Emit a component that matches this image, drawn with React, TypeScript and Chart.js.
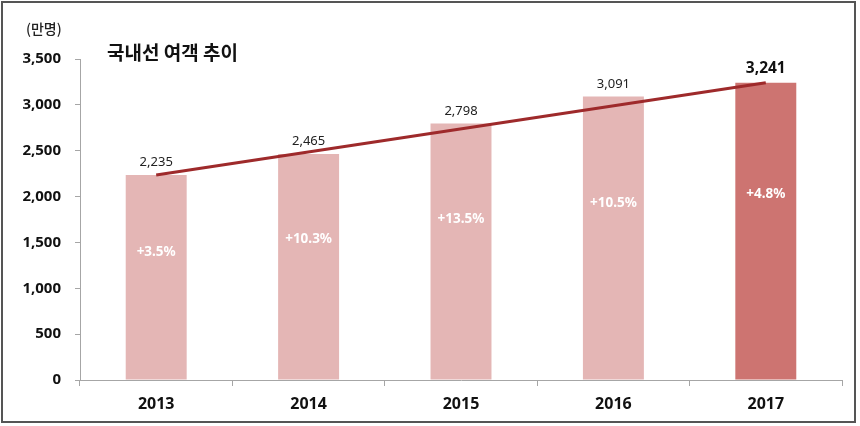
import React, { useEffect, useRef } from "react";
import { Chart, registerables } from "chart.js";

Chart.register(...registerables);

const years = ["2013", "2014", "2015", "2016", "2017"];
const passengers = [2235, 2465, 2798, 3091, 3241];
const growth = ["+3.5%", "+10.3%", "+13.5%", "+10.5%", "+4.8%"];
const trendLine = [2235, null, null, null, 3241];
const yTicks = [0, 500, 1000, 1500, 2000, 2500, 3000, 3500];
const title = "국내선 여객 추이";
const unit = "(만명)";

const LIGHT = "#E4B6B5";
const DARK = "#CD7471";
const FONT = '"Noto Sans", "Noto Sans CJK KR", sans-serif';
const KFONT = '"Noto Sans CJK KR", "Noto Sans", sans-serif';

const labelsPlugin = {
  id: "customLabels",
  afterDatasetsDraw(chart: any) {
    const ctx = chart.ctx;
    const meta = chart.getDatasetMeta(1);
    const yScale = chart.scales.y;
    ctx.save();
    meta.data.forEach((bar: any, i: number) => {
      const last = i === passengers.length - 1;
      ctx.textAlign = "center";
      ctx.textBaseline = "bottom";
      ctx.fillStyle = last ? "#111" : "#222";
      ctx.font = last ? `bold 15.5px ${FONT}` : `13px ${FONT}`;
      ctx.fillText(passengers[i].toLocaleString("en-US"), bar.x, bar.y - 6);
      ctx.textBaseline = "middle";
      ctx.fillStyle = "#FFFFFF";
      ctx.font = `bold 13.5px ${FONT}`;
      ctx.fillText(growth[i], bar.x, yScale.getPixelForValue(passengers[i] * 0.625));
    });
    ctx.restore();
  },
  afterDraw(chart: any) {
    const ctx = chart.ctx;
    ctx.save();
    ctx.fillStyle = "#222";
    ctx.textAlign = "left";
    ctx.textBaseline = "middle";
    ctx.font = `500 14px ${KFONT}`;
    ctx.fillText(unit, 26, 29);
    ctx.fillStyle = "#111";
    ctx.font = `600 19px ${KFONT}`;
    ctx.fillText(title, 107, 53);
    ctx.strokeStyle = "#555";
    ctx.lineWidth = 2;
    ctx.strokeRect(2, 2, 853, 420);
    ctx.restore();
  },
};

export default function App() {
  const ref = useRef<HTMLCanvasElement>(null);
  useEffect(() => {
    document.body.style.margin = "0";
    const chart = new Chart(ref.current as HTMLCanvasElement, {
      type: "bar",
      data: {
        labels: years,
        datasets: [
          {
            type: "line",
            data: trendLine as any,
            borderColor: "#9E2A2B",
            borderWidth: 3,
            pointRadius: 0,
            spanGaps: true,
            fill: false,
            order: 0,
          } as any,
          {
            type: "bar",
            data: passengers,
            backgroundColor: passengers.map((_, i) => (i === passengers.length - 1 ? DARK : LIGHT)),
            barPercentage: 0.4,
            categoryPercentage: 1,
            order: 1,
          },
        ],
      },
      options: {
        responsive: false,
        animation: false,
        layout: { padding: { top: 59, right: 18, left: 0, bottom: 0 } },
        plugins: { legend: { display: false }, tooltip: { enabled: false } },
        scales: {
          x: {
            offset: true,
            grid: { drawOnChartArea: false, drawTicks: true, tickLength: 6, color: "#A6A6A6", offset: true },
            border: { color: "#A6A6A6" },
            ticks: { color: "#111", font: { family: FONT, size: 16, weight: "bold" }, padding: 9 },
            afterFit: (s: any) => { s.height = 46; },
          },
          y: {
            min: 0,
            max: 3500,
            afterBuildTicks: (s: any) => { s.ticks = yTicks.map((v) => ({ value: v })); },
            grid: { drawOnChartArea: false, drawTicks: true, tickLength: 5, color: "#A6A6A6" },
            border: { color: "#A6A6A6" },
            ticks: {
              color: "#111",
              font: { family: FONT, size: 15, weight: "bold" },
              padding: 14,
              callback: (v: any) => Number(v).toLocaleString("en-US"),
            },
            afterFit: (s: any) => { s.width = 80; },
          },
        },
      },
      plugins: [labelsPlugin],
    });
    return () => chart.destroy();
  }, []);
  return <canvas ref={ref} width={860} height={426} style={{ display: "block" }} />;
}
